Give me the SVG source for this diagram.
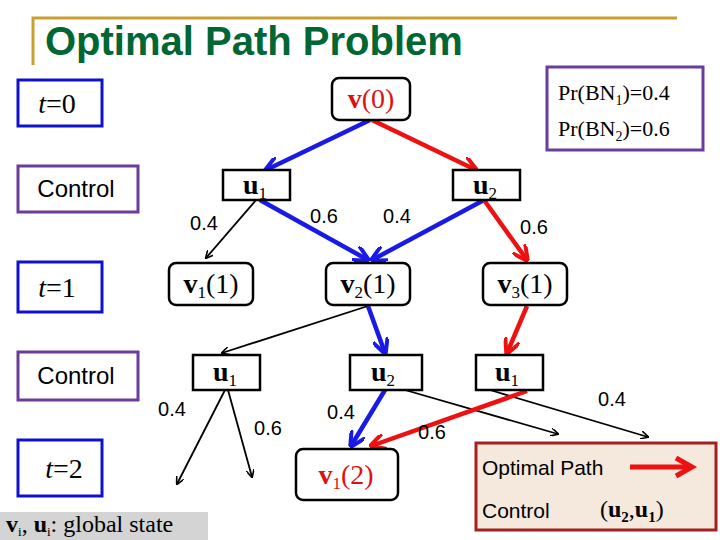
<svg xmlns="http://www.w3.org/2000/svg" width="720" height="540" viewBox="0 0 720 540">
<style>
.b{fill:#fff;stroke:#000;stroke-width:2.5}
.tb{fill:#fff;stroke:#1010d0;stroke-width:3}
.pb{fill:#fff;stroke:#6a3d9a;stroke-width:3}
.tm{font-family:"Liberation Serif",serif;font-size:28px;text-anchor:middle}
.ctl{font-family:"Liberation Sans",sans-serif;font-size:24px;text-anchor:middle}
.k{stroke:#000;stroke-width:1.8;fill:none}
.bl{stroke:#1a1ae6;stroke-width:4.5;fill:none}
.rd{stroke:#ee1111;stroke-width:4.5;fill:none}
</style>
<defs>
<marker id="ak" viewBox="0 0 10 10" refX="9" refY="5" markerWidth="8" markerHeight="8" orient="auto" markerUnits="userSpaceOnUse"><path d="M0,0 L10,5 L0,10" fill="none" stroke="#000" stroke-width="2"/></marker>
<marker id="ab" viewBox="0 0 10 10" refX="9" refY="5" markerWidth="16" markerHeight="16" orient="auto" markerUnits="userSpaceOnUse"><path d="M0,0 L10,5 L0,10" fill="none" stroke="#1a1ae6" stroke-width="2.5"/></marker>
<marker id="ar" viewBox="0 0 10 10" refX="9" refY="5" markerWidth="16" markerHeight="16" orient="auto" markerUnits="userSpaceOnUse"><path d="M0,0 L10,5 L0,10" fill="none" stroke="#ee1111" stroke-width="2.5"/></marker>
</defs>
<rect width="720" height="540" fill="#fff"/>
<path d="M33,65 V18 H677" fill="none" stroke="#c8a030" stroke-width="3"/>
<text x="45" y="55" font-family="Liberation Sans,sans-serif" font-size="40" font-weight="bold" fill="#006633">Optimal Path Problem</text>

<g id="connectors">
<line class="bl" x1="370" y1="120" x2="266" y2="170" marker-end="url(#ab)"/>
<line class="rd" x1="372" y1="120" x2="476" y2="170" marker-end="url(#ar)"/>
<line class="k" x1="256" y1="200" x2="206" y2="258" marker-end="url(#ak)"/>
<line class="bl" x1="260" y1="200" x2="368" y2="260" marker-end="url(#ab)"/>
<line class="bl" x1="484" y1="200" x2="372" y2="260" marker-end="url(#ab)"/>
<line class="rd" x1="484" y1="200" x2="527" y2="260" marker-end="url(#ar)"/>
<line class="k" x1="368" y1="306" x2="222" y2="353" marker-end="url(#ak)"/>
<line class="bl" x1="368" y1="306" x2="385" y2="353" marker-end="url(#ab)"/>
<line class="rd" x1="527" y1="306" x2="507" y2="353" marker-end="url(#ar)"/>
<line class="k" x1="225" y1="390" x2="177" y2="484" marker-end="url(#ak)"/>
<line class="k" x1="228" y1="390" x2="252" y2="477" marker-end="url(#ak)"/>
<line class="bl" x1="385" y1="390" x2="351" y2="446" marker-end="url(#ab)"/>
<line class="k" x1="405" y1="390" x2="558" y2="434" marker-end="url(#ak)"/>
<line class="k" x1="490" y1="390" x2="648" y2="437" marker-end="url(#ak)"/>
<line class="rd" x1="527" y1="391" x2="371" y2="446" marker-end="url(#ar)"/>
</g>
<g font-family="Liberation Sans,sans-serif" font-size="20" text-anchor="middle">
<text x="204" y="230">0.4</text><text x="324" y="223">0.6</text><text x="397" y="223">0.4</text><text x="534" y="234">0.6</text>
<text x="172" y="416">0.4</text><text x="268" y="435">0.6</text><text x="341" y="419">0.4</text><text x="432" y="439">0.6</text><text x="612" y="406">0.4</text>
</g>

<g id="t0"><rect class="tb" x="18" y="80" width="84" height="46"/><text class="tm" x="57" y="113"><tspan font-style="italic">t</tspan>=0</text></g>
<g id="ctrl1"><rect class="pb" x="18" y="166" width="120" height="46"/><text class="ctl" x="76" y="197">Control</text></g>
<g id="t1"><rect class="tb" x="18" y="262" width="84" height="50"/><text class="tm" x="57" y="297"><tspan font-style="italic">t</tspan>=1</text></g>
<g id="ctrl2"><rect class="pb" x="18" y="352" width="120" height="48"/><text class="ctl" x="76" y="384">Control</text></g>
<g id="t2"><rect class="tb" x="18" y="440" width="84" height="56"/><text class="tm" x="64" y="478"><tspan font-style="italic">t</tspan>=2</text></g>

<g id="pr"><rect class="pb" x="547" y="67" width="156" height="83"/>
<text x="558" y="100" font-family="Liberation Serif,serif" font-size="22">Pr(BN<tspan font-size="14" dy="5">1</tspan><tspan dy="-5">)=0.4</tspan></text>
<text x="558" y="136" font-family="Liberation Serif,serif" font-size="22">Pr(BN<tspan font-size="14" dy="5">2</tspan><tspan dy="-5">)=0.6</tspan></text></g>

<g id="v0"><rect class="b" x="332" y="78" width="78" height="42" rx="7"/><text class="tm" x="371" y="108" fill="#dd1111"><tspan font-weight="bold">v</tspan>(0)</text></g>
<g id="u1a"><rect class="b" x="223" y="170" width="67" height="30"/><text class="tm" x="255" y="194"><tspan font-weight="bold">u</tspan><tspan font-size="17" dy="5">1</tspan></text></g>
<g id="u2a"><rect class="b" x="453" y="170" width="67" height="30"/><text class="tm" x="485" y="194"><tspan font-weight="bold">u</tspan><tspan font-size="17" dy="5">2</tspan></text></g>
<g id="v11"><rect class="b" x="169" y="263" width="84" height="42" rx="7"/><text class="tm" x="211" y="293"><tspan font-weight="bold">v</tspan><tspan font-size="17" dy="5">1</tspan><tspan dy="-5">(1)</tspan></text></g>
<g id="v21"><rect class="b" x="326" y="263" width="84" height="42" rx="7"/><text class="tm" x="368" y="293"><tspan font-weight="bold">v</tspan><tspan font-size="17" dy="5">2</tspan><tspan dy="-5">(1)</tspan></text></g>
<g id="v31"><rect class="b" x="483" y="263" width="84" height="42" rx="7"/><text class="tm" x="525" y="293"><tspan font-weight="bold">v</tspan><tspan font-size="17" dy="5">3</tspan><tspan dy="-5">(1)</tspan></text></g>
<g id="u1b"><rect class="b" x="193" y="355" width="67" height="35"/><text class="tm" x="225" y="381"><tspan font-weight="bold">u</tspan><tspan font-size="17" dy="5">1</tspan></text></g>
<g id="u2b"><rect class="b" x="350" y="355" width="72" height="35"/><text class="tm" x="383" y="381"><tspan font-weight="bold">u</tspan><tspan font-size="17" dy="5">2</tspan></text></g>
<g id="u1c"><rect class="b" x="476" y="355" width="67" height="35"/><text class="tm" x="507" y="381"><tspan font-weight="bold">u</tspan><tspan font-size="17" dy="5">1</tspan></text></g>
<g id="v12"><rect class="b" x="296" y="449" width="102" height="51" rx="7"/><text class="tm" x="346" y="484" fill="#dd1111"><tspan font-weight="bold">v</tspan><tspan font-size="17" dy="5">1</tspan><tspan dy="-5">(2)</tspan></text></g>

<g id="note"><rect x="0" y="512" width="208" height="30" fill="#d4d4d4"/>
<text x="6" y="532" font-family="Liberation Serif,serif" font-size="24"><tspan font-weight="bold">v</tspan><tspan font-size="13" dy="4">i</tspan><tspan dy="-4">, </tspan><tspan font-weight="bold">u</tspan><tspan font-size="13" dy="4">i</tspan><tspan dy="-4">: global state</tspan></text></g>

<g id="legend"><rect x="476" y="443" width="240" height="87" fill="#f5e8dc" stroke="#a52020" stroke-width="3"/>
<text x="482" y="475" font-family="Liberation Sans,sans-serif" font-size="21">Optimal Path</text>
<line x1="630" y1="467" x2="688" y2="467" stroke="#ee1111" stroke-width="5"/>
<path d="M676,458 L692,467 L676,476" fill="none" stroke="#ee1111" stroke-width="5"/>
<text x="482" y="518" font-family="Liberation Sans,sans-serif" font-size="21">Control</text>
<text x="600" y="517" font-family="Liberation Serif,serif" font-size="24">(<tspan font-weight="bold">u</tspan><tspan font-size="15" dy="5" font-weight="bold">2</tspan><tspan dy="-5">,</tspan><tspan font-weight="bold">u</tspan><tspan font-size="15" dy="5" font-weight="bold">1</tspan><tspan dy="-5">)</tspan></text></g>
</svg>
